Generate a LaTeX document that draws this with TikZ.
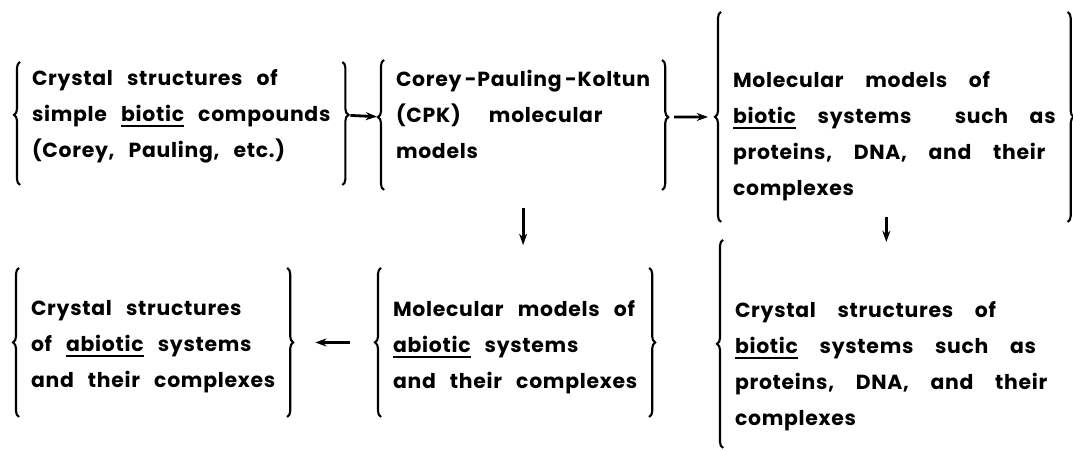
\documentclass[tikz,border=0pt]{standalone}
\usepackage{fontspec}
\setmainfont{Poppins}[LetterSpace=3.5,WordSpace=2.8]
\newfontfamily\widefont{Poppins}[LetterSpace=3.5,WordSpace=4.3]
\usetikzlibrary{decorations.pathreplacing,arrows.meta}

% underlined word, thick rule below the letters
\newsavebox\wordbox
\newcommand\uword[1]{\sbox\wordbox{#1}\rlap{\rule[-3.4pt]{\wd\wordbox}{1.4pt}}\usebox\wordbox}

\tikzset{
  box/.style={align=left,inner xsep=0.3cm,inner ysep=0pt,outer sep=0pt,anchor=base west,
    font=\fontsize{14.5}{25.6}\selectfont\bfseries},
  widebox/.style={box,font=\fontsize{14.5}{25.6}\selectfont\widefont\bfseries},
  curly/.style={decorate,decoration={brace,amplitude=0.15cm,aspect=#1},line width=1.5pt},
  curly/.default=0.5,
  rcurly/.style={curly=#1,decoration={mirror}},
  rcurly/.default=0.5,
  flow/.style={line width=2pt}
}

\begin{document}
\begin{tikzpicture}[x=0.025cm,y=0.025cm]
\useasboundingbox (0,0) rectangle (1073,451);
\node[box,text height=2.4cm,text depth=0.675cm] (XtalSimple) at (20,293){Crystal structures of\\simple \uword{biotic} compounds\\(Corey, Pauling, etc.)};
\node[box,text height=2.475cm,text depth=0.775cm] (CPK) at (384,292){Corey\,-Pauling\,-Koltun\\(CPK) \ molecular\\models};
\node[widebox,text height=4.6cm,text depth=0.65cm] (ModBiotic) at (721,255){Molecular models of\\\uword{biotic} systems \ such as\\proteins, DNA, and their\\complexes};
\node[box,text height=3cm,text depth=0.725cm] (XtalAbiotic) at (19,63){Crystal structures\\of \uword{abiotic} systems\\and their complexes};
\node[box,text height=3.025cm,text depth=0.7cm] (ModAbiotic) at (381,62){Molecular models of\\\uword{abiotic} systems\\and their complexes};
\node[widebox,text height=4.65cm,text depth=0.55cm] (XtalBiotic) at (723,25){Crystal structures of\\\uword{biotic} systems such as\\proteins, DNA, and their\\complexes};

% braces
\foreach \n/\a in {XtalSimple/0.57,CPK/0.56,ModBiotic/0.5,XtalAbiotic/0.5,ModAbiotic/0.5,XtalBiotic/0.5}
  \draw[curly=\a] (\n.south west) -- (\n.north west);
\foreach \n/\a in {XtalSimple/0.57,CPK/0.56,ModBiotic/0.5,XtalAbiotic/0.5,ModAbiotic/0.5}
  \draw[rcurly=\a] (\n.south east) -- (\n.north east);

% arrows
\draw [-{Stealth[length=0.28cm,width=0.2cm]},flow,shorten <=0.2cm,shorten >=0.175cm]([yshift=0.21cm]XtalSimple.east) -- ([yshift=0.2cm]CPK.west);
\draw [-{Stealth[length=0.28cm,width=0.2cm]},flow,shorten <=0.3cm,shorten >=0.325cm]([yshift=0.2cm]CPK.east) -- (ModBiotic.west);
\draw [-{Stealth[length=0.28cm,width=0.2cm]},flow,shorten <=0.45cm,shorten >=0.575cm](CPK.south) -- (CPK.south |- ModAbiotic.north);
\draw [-{Stealth[length=0.28cm,width=0.2cm]},flow,shorten <=-0.125cm,shorten >=-0.05cm]([xshift=-0.2cm]ModBiotic.south) -- ([xshift=-0.2cm]ModBiotic.south |- XtalBiotic.north);
\draw [-{Stealth[length=0.28cm,width=0.2cm]},flow,shorten <=0.775cm,shorten >=0.7cm](ModAbiotic.west) -- (XtalAbiotic.east);
\end{tikzpicture}
\end{document}
